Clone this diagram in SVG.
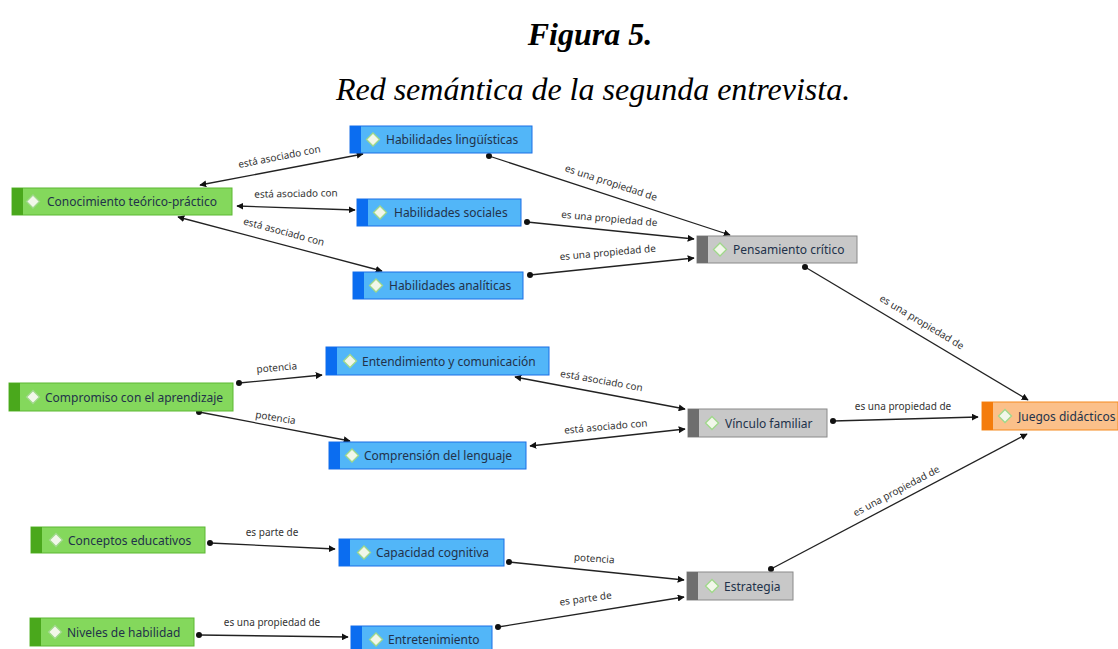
<svg xmlns="http://www.w3.org/2000/svg" width="1118" height="649" viewBox="0 0 1118 649">
<style>
.title{font-family:"Liberation Serif",serif;font-style:italic;font-size:32px;fill:#000}
.lbl{font-family:"Noto Sans","Open Sans",sans-serif;font-size:12px;fill:#22324a}
.el{font-family:"Noto Sans","Open Sans",sans-serif;font-size:10px;fill:#333}
.g .body{fill:#84d85c;stroke:#5cb832;stroke-width:1}
.g .bar{fill:#4aa81c}
.b .body{fill:#52b6f8;stroke:#1a6fe6;stroke-width:1}
.b .bar{fill:#0b6df0}
.k .body{fill:#c8c8c8;stroke:#8a8a8a;stroke-width:1}
.k .bar{fill:#6e6e6e}
.o .body{fill:#fbc08a;stroke:#f58a1e;stroke-width:1}
.o .bar{fill:#f47c0c}
.dia{fill:#f2f7ea;stroke:#9fd88a;stroke-width:1.3}
.e{fill:none;stroke:#222;stroke-width:1.3}
</style>
<defs>
<marker id="arr" viewBox="0 0 10 10" refX="9" refY="5" markerWidth="7" markerHeight="7" markerUnits="userSpaceOnUse" orient="auto-start-reverse"><path d="M0,0 L10,5 L0,10 Z" fill="#111"/></marker>
<marker id="dot" viewBox="0 0 10 10" refX="5" refY="5" markerWidth="6" markerHeight="6" markerUnits="userSpaceOnUse"><circle cx="5" cy="5" r="5" fill="#111"/></marker>
<path id="d" d="M0,-6.5 L6.5,0 L0,6.5 L-6.5,0 Z"/>
</defs>
<text class="title" x="590" y="45" text-anchor="middle" font-weight="bold">Figura 5.</text>
<text class="title" x="593" y="100" text-anchor="middle">Red semántica de la segunda entrevista.</text>

<g id="connectors">
<line class="e" x1="200" y1="185" x2="363" y2="154" marker-start="url(#arr)" marker-end="url(#arr)"/>
<line class="e" x1="237" y1="206" x2="355" y2="210" marker-start="url(#arr)" marker-end="url(#arr)"/>
<line class="e" x1="178" y1="217" x2="382" y2="271" marker-start="url(#arr)" marker-end="url(#arr)"/>
<line class="e" x1="489" y1="156" x2="730" y2="235" marker-start="url(#dot)" marker-end="url(#arr)"/>
<line class="e" x1="527" y1="222" x2="694" y2="239" marker-start="url(#dot)" marker-end="url(#arr)"/>
<line class="e" x1="530" y1="275" x2="694" y2="258" marker-start="url(#dot)" marker-end="url(#arr)"/>
<line class="e" x1="805" y1="267" x2="1028" y2="400" marker-start="url(#dot)" marker-end="url(#arr)"/>
<line class="e" x1="833" y1="421" x2="978" y2="417" marker-start="url(#dot)" marker-end="url(#arr)"/>
<line class="e" x1="771" y1="569" x2="1027" y2="434" marker-start="url(#dot)" marker-end="url(#arr)"/>
<line class="e" x1="239" y1="383" x2="322" y2="375" marker-start="url(#dot)" marker-end="url(#arr)"/>
<line class="e" x1="199" y1="412" x2="350" y2="441" marker-start="url(#dot)" marker-end="url(#arr)"/>
<line class="e" x1="515" y1="377" x2="685" y2="409" marker-start="url(#arr)" marker-end="url(#arr)"/>
<line class="e" x1="530" y1="446" x2="685" y2="429" marker-start="url(#arr)" marker-end="url(#arr)"/>
<line class="e" x1="210" y1="543" x2="335" y2="549" marker-start="url(#dot)" marker-end="url(#arr)"/>
<line class="e" x1="199" y1="635" x2="348" y2="637" marker-start="url(#dot)" marker-end="url(#arr)"/>
<line class="e" x1="509" y1="562" x2="684" y2="580" marker-start="url(#dot)" marker-end="url(#arr)"/>
<line class="e" x1="498" y1="627" x2="684" y2="597" marker-start="url(#dot)" marker-end="url(#arr)"/>
<text class="el" transform="translate(280,160) rotate(-11)" text-anchor="middle">está asociado con</text>
<text class="el" transform="translate(296,197) rotate(-1)" text-anchor="middle">está asociado con</text>
<text class="el" transform="translate(283,235) rotate(15)" text-anchor="middle">está asociado con</text>
<text class="el" transform="translate(610,186) rotate(18)" text-anchor="middle">es una propiedad de</text>
<text class="el" transform="translate(609,222) rotate(5)" text-anchor="middle">es una propiedad de</text>
<text class="el" transform="translate(608,256) rotate(-5)" text-anchor="middle">es una propiedad de</text>
<text class="el" transform="translate(920,325) rotate(31)" text-anchor="middle">es una propiedad de</text>
<text class="el" transform="translate(903,410)" text-anchor="middle">es una propiedad de</text>
<text class="el" transform="translate(898,494) rotate(-28)" text-anchor="middle">es una propiedad de</text>
<text class="el" transform="translate(277,371) rotate(-5)" text-anchor="middle">potencia</text>
<text class="el" transform="translate(275,421) rotate(9)" text-anchor="middle">potencia</text>
<text class="el" transform="translate(601,384) rotate(10)" text-anchor="middle">está asociado con</text>
<text class="el" transform="translate(606,430) rotate(-5)" text-anchor="middle">está asociado con</text>
<text class="el" transform="translate(272,536)" text-anchor="middle">es parte de</text>
<text class="el" transform="translate(272,626)" text-anchor="middle">es una propiedad de</text>
<text class="el" transform="translate(594,562) rotate(4)" text-anchor="middle">potencia</text>
<text class="el" transform="translate(586,602) rotate(-8)" text-anchor="middle">es parte de</text>
</g>

<g id="n1" class="g"><rect class="body" x="12" y="188" width="220" height="27"/><rect class="bar" x="12" y="188" width="11" height="27"/><use href="#d" class="dia" x="33" y="201.5"/><text class="lbl" x="47" y="206">Conocimiento teórico-práctico</text></g>
<g id="n2" class="b"><rect class="body" x="350" y="126" width="182" height="27"/><rect class="bar" x="350" y="126" width="11" height="27"/><use href="#d" class="dia" x="373" y="139.5"/><text class="lbl" x="386" y="144">Habilidades lingüísticas</text></g>
<g id="n3" class="b"><rect class="body" x="357" y="199" width="164" height="27"/><rect class="bar" x="357" y="199" width="11" height="27"/><use href="#d" class="dia" x="380" y="212.5"/><text class="lbl" x="394" y="217">Habilidades sociales</text></g>
<g id="n4" class="b"><rect class="body" x="353" y="272" width="170" height="27"/><rect class="bar" x="353" y="272" width="11" height="27"/><use href="#d" class="dia" x="376" y="285.5"/><text class="lbl" x="389" y="290">Habilidades analíticas</text></g>
<g id="n5" class="k"><rect class="body" x="697" y="236" width="160" height="27"/><rect class="bar" x="697" y="236" width="11" height="27"/><use href="#d" class="dia" x="720" y="249.5"/><text class="lbl" x="733" y="254">Pensamiento crítico</text></g>
<g id="n6" class="o"><rect class="body" x="982" y="402" width="136" height="28"/><rect class="bar" x="982" y="402" width="11" height="28"/><use href="#d" class="dia" x="1005" y="416"/><text class="lbl" x="1018" y="420.5">Juegos didácticos</text></g>
<g id="n7" class="k"><rect class="body" x="688" y="409" width="139" height="28"/><rect class="bar" x="688" y="409" width="11" height="28"/><use href="#d" class="dia" x="712" y="423"/><text class="lbl" x="725" y="427.5">Vínculo familiar</text></g>
<g id="n8" class="g"><rect class="body" x="9" y="383" width="224" height="28"/><rect class="bar" x="9" y="383" width="11" height="28"/><use href="#d" class="dia" x="33" y="397"/><text class="lbl" x="45" y="401.5">Compromiso con el aprendizaje</text></g>
<g id="n9" class="b"><rect class="body" x="326" y="347" width="223" height="28"/><rect class="bar" x="326" y="347" width="11" height="28"/><use href="#d" class="dia" x="350" y="361"/><text class="lbl" x="362" y="365.5">Entendimiento y comunicación</text></g>
<g id="n10" class="b"><rect class="body" x="329" y="442" width="197" height="27"/><rect class="bar" x="329" y="442" width="11" height="27"/><use href="#d" class="dia" x="352" y="455.5"/><text class="lbl" x="364" y="460">Comprensión del lenguaje</text></g>
<g id="n11" class="g"><rect class="body" x="31" y="527" width="174" height="26"/><rect class="bar" x="31" y="527" width="11" height="26"/><use href="#d" class="dia" x="56" y="540"/><text class="lbl" x="68" y="544.5">Conceptos educativos</text></g>
<g id="n12" class="g"><rect class="body" x="30" y="618" width="164" height="28"/><rect class="bar" x="30" y="618" width="11" height="28"/><use href="#d" class="dia" x="55" y="632"/><text class="lbl" x="67" y="636.5">Niveles de habilidad</text></g>
<g id="n13" class="b"><rect class="body" x="339" y="539" width="165" height="27"/><rect class="bar" x="339" y="539" width="11" height="27"/><use href="#d" class="dia" x="364" y="552.5"/><text class="lbl" x="376" y="557">Capacidad cognitiva</text></g>
<g id="n14" class="b"><rect class="body" x="351" y="626" width="141" height="27"/><rect class="bar" x="351" y="626" width="11" height="27"/><use href="#d" class="dia" x="376" y="639.5"/><text class="lbl" x="388" y="644">Entretenimiento</text></g>
<g id="n15" class="k"><rect class="body" x="687" y="572" width="106" height="28"/><rect class="bar" x="687" y="572" width="11" height="28"/><use href="#d" class="dia" x="712" y="586"/><text class="lbl" x="724" y="590.5">Estrategia</text></g>
</svg>
